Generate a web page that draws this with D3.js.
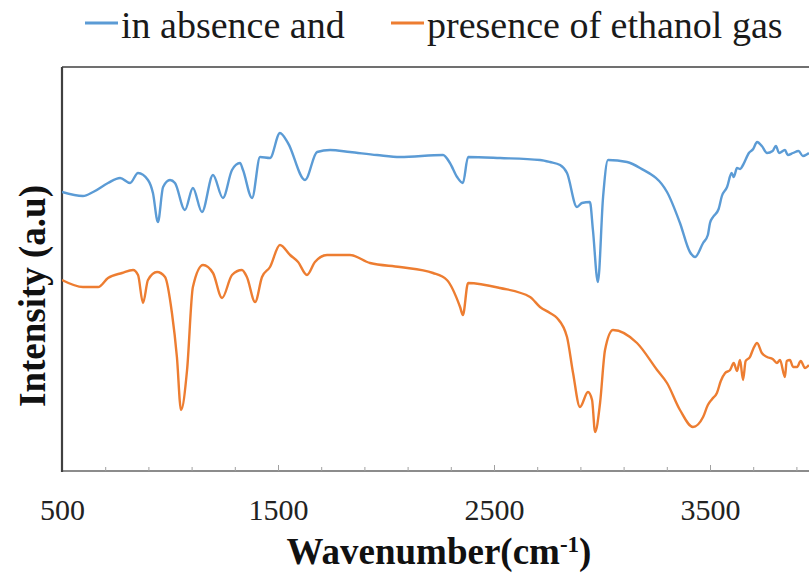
<!DOCTYPE html>
<html>
<head>
<meta charset="utf-8">
<script src="https://cdn.jsdelivr.net/npm/d3@7"></script>
<style>
  body { margin: 0; background: #fff; }
  svg text { font-family: "Liberation Serif", "Times New Roman", serif; }
</style>
</head>
<body>
<div id="chart"></div>
<script>
// wavenumber (cm-1) and intensity (a.u, arbitrary)
var absenceWave = [500, 597, 644, 713, 769, 815, 852, 898, 921, 944, 968, 1000, 1023, 1069, 1106, 1148, 1199, 1245, 1287, 1324, 1338, 1380, 1417, 1463, 1509, 1546, 1625, 1681, 1741, 1833, 1958, 2065, 2264, 2296, 2329, 2356, 2380, 2528, 2713, 2759, 2806, 2838, 2884, 2907, 2944, 2958, 2981, 3005, 3028, 3116, 3176, 3301, 3361, 3407, 3431, 3468, 3490, 3500, 3514, 3540, 3555, 3579, 3600, 3610, 3625, 3640, 3653, 3680, 3700, 3718, 3740, 3764, 3790, 3805, 3820, 3847, 3860, 3884, 3910, 3930, 3958];
var absenceInt = [279, 275, 279, 288, 293, 288, 298, 291, 278, 249, 284, 291, 288, 261, 283, 259, 296, 273, 301, 308, 301, 273, 314, 313, 338, 328, 291, 319, 321, 319, 316, 314, 316, 308, 294, 288, 314, 313, 311, 309, 306, 298, 264, 268, 269, 241, 189, 274, 311, 309, 303, 279, 248, 219, 214, 228, 236, 248, 254, 262, 275, 284, 298, 294, 303, 302, 306, 318, 322, 329, 325, 318, 320, 325, 318, 321, 316, 318, 320, 315, 318];

var presenceWave = [500, 597, 667, 713, 778, 829, 852, 875, 898, 940, 977, 1009, 1032, 1051, 1079, 1106, 1153, 1199, 1241, 1287, 1333, 1356, 1394, 1426, 1463, 1509, 1556, 1593, 1634, 1671, 1727, 1833, 1926, 2065, 2218, 2282, 2343, 2356, 2380, 2528, 2667, 2713, 2759, 2792, 2838, 2866, 2898, 2935, 2954, 2968, 2991, 3014, 3051, 3162, 3255, 3301, 3361, 3421, 3468, 3490, 3510, 3532, 3550, 3570, 3593, 3610, 3625, 3639, 3653, 3665, 3685, 3700, 3718, 3740, 3764, 3790, 3810, 3824, 3847, 3855, 3870, 3885, 3903, 3920, 3940, 3958];
var presenceInt = [191, 184, 184, 193, 198, 201, 196, 168, 191, 199, 194, 158, 114, 61, 101, 184, 206, 198, 173, 196, 201, 194, 169, 194, 204, 226, 216, 209, 196, 209, 216, 216, 208, 204, 198, 191, 164, 156, 188, 183, 174, 164, 158, 153, 134, 98, 64, 79, 71, 39, 68, 121, 141, 128, 101, 88, 61, 44, 54, 66, 72, 78, 90, 98, 101, 108, 100, 111, 91, 110, 114, 122, 128, 118, 114, 112, 108, 111, 94, 110, 111, 104, 104, 110, 103, 106];

var seriesNames = ["in absence and", "presence of ethanol gas"];
var seriesColors = ["#5b9bd5", "#ed7d31"];
var minorTicks = d3.range(500, 4000, 200);
var labelTicks = [500, 1500, 2500, 3500];

var width = 809, height = 575;
var margin = { left: 62, top: 67, bottom: 104 };
var serif = '"Liberation Serif", "Times New Roman", serif';

var svg = d3.select("#chart").append("svg")
    .attr("width", width)
    .attr("height", height);

var x = d3.scaleLinear().domain([500, 4000]).range([margin.left, margin.left + 3500 * 0.216]);
var y = d3.scaleLinear().domain([0, 404]).range([height - margin.bottom, margin.top]);

svg.append("defs").append("clipPath").attr("id", "plotclip")
    .append("rect")
    .attr("x", margin.left).attr("y", margin.top)
    .attr("width", width - margin.left).attr("height", y(0) - margin.top);

// frame: top line
svg.append("line")
    .attr("x1", margin.left).attr("x2", width)
    .attr("y1", margin.top).attr("y2", margin.top)
    .attr("stroke", "#404040").attr("stroke-width", 1.5);

// x axis with inward ticks
var xAxis = svg.append("g")
    .attr("transform", "translate(0," + y(0) + ")")
    .call(d3.axisBottom(x)
        .tickValues(minorTicks)
        .tickSizeInner(-4)
        .tickSizeOuter(0)
        .tickFormat(function(d) { return labelTicks.indexOf(d) >= 0 ? d : ""; }));
xAxis.attr("font-family", serif);
xAxis.select(".domain").attr("stroke", "#8c8c8c").attr("stroke-width", 2)
    .attr("d", "M" + margin.left + ",0H" + width);
xAxis.selectAll(".tick line").attr("stroke", "#a0a0a0")
    .attr("y2", function(d) { return labelTicks.indexOf(d) >= 0 ? -6 : -4; });
xAxis.selectAll(".tick text")
    .attr("y", 49).attr("dy", 0)
    .attr("fill", "#222")
    .style("font-family", serif)
    .style("font-size", "30px");

// y axis (no ticks)
svg.append("line")
    .attr("x1", margin.left).attr("x2", margin.left)
    .attr("y1", margin.top).attr("y2", y(0) + 1)
    .attr("stroke", "#404040").attr("stroke-width", 2.2);

var line = d3.line()
    .x(function(d) { return x(d[0]); })
    .y(function(d) { return y(d[1]); })
    .curve(d3.curveMonotoneX);

var series = [
    d3.zip(absenceWave, absenceInt),
    d3.zip(presenceWave, presenceInt)
];

svg.append("g").attr("clip-path", "url(#plotclip)")
    .selectAll("path")
    .data(series)
    .enter().append("path")
    .attr("d", line)
    .attr("fill", "none")
    .attr("stroke", function(d, i) { return seriesColors[i]; })
    .attr("stroke-width", 2.4)
    .attr("stroke-linejoin", "round");

// legend
var legendX = [85, 391];
var legend = svg.selectAll(".legend")
    .data(seriesNames)
    .enter().append("g")
    .attr("class", "legend");
legend.append("line")
    .attr("x1", function(d, i) { return legendX[i]; })
    .attr("x2", function(d, i) { return legendX[i] + 33; })
    .attr("y1", 23).attr("y2", 23)
    .attr("stroke", function(d, i) { return seriesColors[i]; })
    .attr("stroke-width", 3);
legend.append("text")
    .attr("x", function(d, i) { return legendX[i] + 36; })
    .attr("y", 38)
    .attr("fill", "#1a1a1a")
    .style("font-family", serif)
    .style("font-size", "38px")
    .text(function(d) { return d; });

// axis titles
var xTitle = svg.append("text")
    .attr("x", 439).attr("y", 564)
    .attr("text-anchor", "middle")
    .attr("fill", "#111")
    .style("font-family", serif)
    .style("font-size", "37px")
    .style("font-weight", "bold");
xTitle.append("tspan").text("Wavenumber(cm");
xTitle.append("tspan").attr("dy", -12).style("font-size", "23px").text("-1");
xTitle.append("tspan").attr("dy", 12).text(")");

svg.append("text")
    .attr("transform", "translate(45,296) rotate(-90)")
    .attr("text-anchor", "middle")
    .attr("fill", "#111")
    .style("font-family", serif)
    .style("font-size", "37px")
    .style("font-weight", "bold")
    .text("Intensity (a.u)");
</script>
</body>
</html>
